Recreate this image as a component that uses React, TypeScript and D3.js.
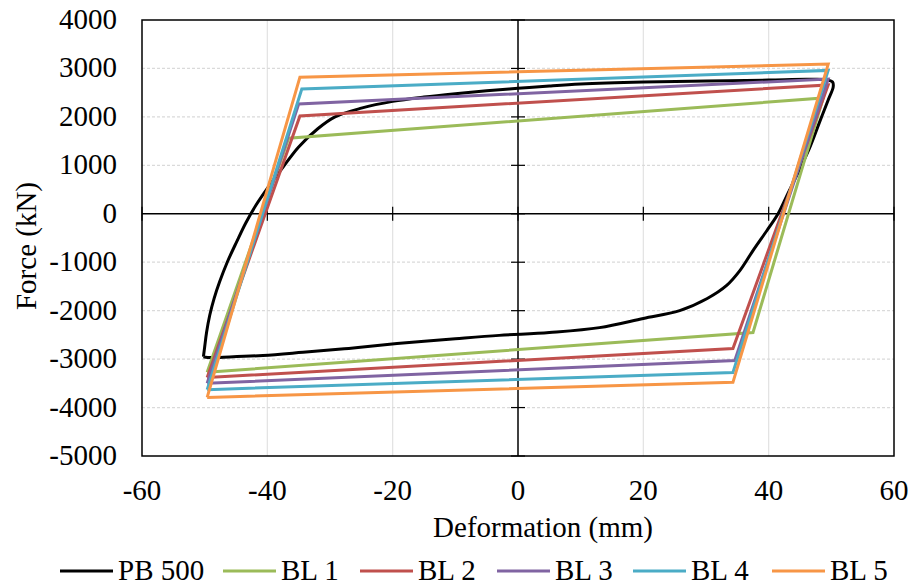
import React from "react";
import * as d3 from "d3";

const W = 914;
const H = 587;

const xTicks = [-60, -40, -20, 0, 20, 40, 60];
const yTicks = [4000, 3000, 2000, 1000, 0, -1000, -2000, -3000, -4000, -5000];

const seriesNames = ["PB 500", "BL 1", "BL 2", "BL 3", "BL 4", "BL 5"];
const seriesColors = ["#000000", "#9BBB59", "#C0504D", "#8064A2", "#4BACC6", "#F79646"];

const pbX = [-50.2, -50.0, -49.7, -49.2, -48.5, -47.6, -46.4, -44.9, -43.4, -41.8, -39.8, -37.4, -35.0, -32.0, -29.2, -25.0, -20, -15, -10, -5, 0, 5, 10, 20, 30, 40, 46, 49, 50.2, 50.3, 49.5, 48.0, 46.5, 44.5, 43.0, 41.5, 39.7, 37.5, 35.4, 33.3, 30.2, 25.8, 20, 13, 5, -3, -10, -19.3, -27, -34.3, -40.7, -46, -49.5, -50.2];
const pbY = [-2950, -2750, -2450, -2100, -1750, -1400, -1000, -580, -180, 180, 560, 980, 1380, 1750, 2000, 2180, 2320, 2410, 2480, 2540, 2590, 2640, 2680, 2720, 2740, 2760, 2775, 2770, 2720, 2620, 2350, 1850, 1350, 800, 400, 0, -350, -760, -1175, -1480, -1750, -2000, -2160, -2350, -2450, -2510, -2580, -2680, -2780, -2860, -2925, -2955, -2965, -2950];

const bl1X = [-49.6, -36.6, 48.7, 37.5, -49.6];
const bl1Y = [-3270, 1560, 2390, -2450, -3270];
const bl2X = [-49.6, -34.8, 49.5, 34.3, -49.6];
const bl2Y = [-3380, 2020, 2660, -2780, -3380];
const bl3X = [-49.6, -35.0, 49.5, 34.6, -49.6];
const bl3Y = [-3500, 2266, 2780, -3030, -3500];
const bl4X = [-49.6, -34.5, 49.5, 34.3, -49.6];
const bl4Y = [-3630, 2575, 2960, -3275, -3630];
const bl5X = [-49.6, -34.8, 49.5, 34.3, -49.6];
const bl5Y = [-3790, 2820, 3090, -3480, -3790];

const textStyle: React.CSSProperties = {
  fontFamily: '"Liberation Serif", "Times New Roman", Times, serif',
  fontSize: "29px",
};

export default function App() {
  const left = 142, right = 894, top = 20, bottom = 456;
  const x = d3.scaleLinear().domain([-60, 60]).range([left, right]);
  const y = d3.scaleLinear().domain([-5000, 4000]).range([bottom, top]);

  const lineLin = d3.line<[number, number]>().x(d => x(d[0])).y(d => y(d[1]));
  const lineSmooth = d3
    .line<[number, number]>()
    .x(d => x(d[0]))
    .y(d => y(d[1]))
    .curve(d3.curveCatmullRom.alpha(0.5));

  const zip = (a: number[], b: number[]) => a.map((v, i) => [v, b[i]] as [number, number]);

  const series = [
    { d: lineSmooth(zip(pbX, pbY)) },
    { d: lineLin(zip(bl1X, bl1Y)) },
    { d: lineLin(zip(bl2X, bl2Y)) },
    { d: lineLin(zip(bl3X, bl3Y)) },
    { d: lineLin(zip(bl4X, bl4Y)) },
    { d: lineLin(zip(bl5X, bl5Y)) },
  ];

  const legendStarts = [60, 223, 360, 497, 633, 772];
  const legendLineLen = 53;
  const legendY = 571;

  return (
    <svg width={W} height={H} style={{ position: "absolute", left: 0, top: 0, background: "#fff" }}>
      <rect x={0} y={0} width={W} height={H} fill="#fff" />
      {xTicks.filter(t => t !== 0 && Math.abs(t) !== 60).map(t => (
        <line key={"vg" + t} x1={x(t)} x2={x(t)} y1={top} y2={bottom} stroke="#e2e2e2" strokeWidth={1.2} />
      ))}
      {yTicks.filter(t => t !== 0 && t !== 4000 && t !== -5000).map(t => (
        <line key={"hg" + t} x1={left} x2={right} y1={y(t)} y2={y(t)} stroke="#dadada" strokeWidth={1.2} strokeDasharray="3,2" />
      ))}
      <rect x={left} y={top} width={right - left} height={bottom - top} fill="none" stroke="#000" strokeWidth={1.5} />
      <line x1={left} x2={right} y1={y(0)} y2={y(0)} stroke="#000" strokeWidth={1.5} />
      <line x1={x(0)} x2={x(0)} y1={top} y2={bottom} stroke="#000" strokeWidth={1.5} />
      {xTicks.map(t => (
        <line key={"xt" + t} x1={x(t)} x2={x(t)} y1={y(0) - 7} y2={y(0) + 7} stroke="#000" strokeWidth={1.2} />
      ))}
      {yTicks.map(t => (
        <line key={"yt" + t} x1={x(0) - 7} x2={x(0) + 7} y1={y(t)} y2={y(t)} stroke="#000" strokeWidth={1.2} />
      ))}
      {series.map((s, i) => (
        <path key={"s" + i} d={s.d || ""} fill="none" stroke={seriesColors[i]} strokeWidth={3} strokeLinejoin="miter" />
      ))}
      {yTicks.map(t => (
        <text key={"yl" + t} x={117} y={y(t) + 9} textAnchor="end" style={textStyle} fill="#000">
          {t}
        </text>
      ))}
      {xTicks.map(t => (
        <text key={"xl" + t} x={x(t)} y={500} textAnchor="middle" style={textStyle} fill="#000">
          {t}
        </text>
      ))}
      <text x={543} y={537} textAnchor="middle" style={textStyle} fill="#000">
        Deformation (mm)
      </text>
      <text transform={`translate(36,246) rotate(-90)`} textAnchor="middle" style={textStyle} fill="#000">
        Force (kN)
      </text>
      {seriesNames.map((n, i) => (
        <g key={"lg" + i}>
          <line x1={legendStarts[i]} x2={legendStarts[i] + legendLineLen} y1={legendY} y2={legendY} stroke={seriesColors[i]} strokeWidth={3} />
          <text x={legendStarts[i] + legendLineLen + 5} y={580} style={textStyle} fill="#000">
            {n}
          </text>
        </g>
      ))}
    </svg>
  );
}
